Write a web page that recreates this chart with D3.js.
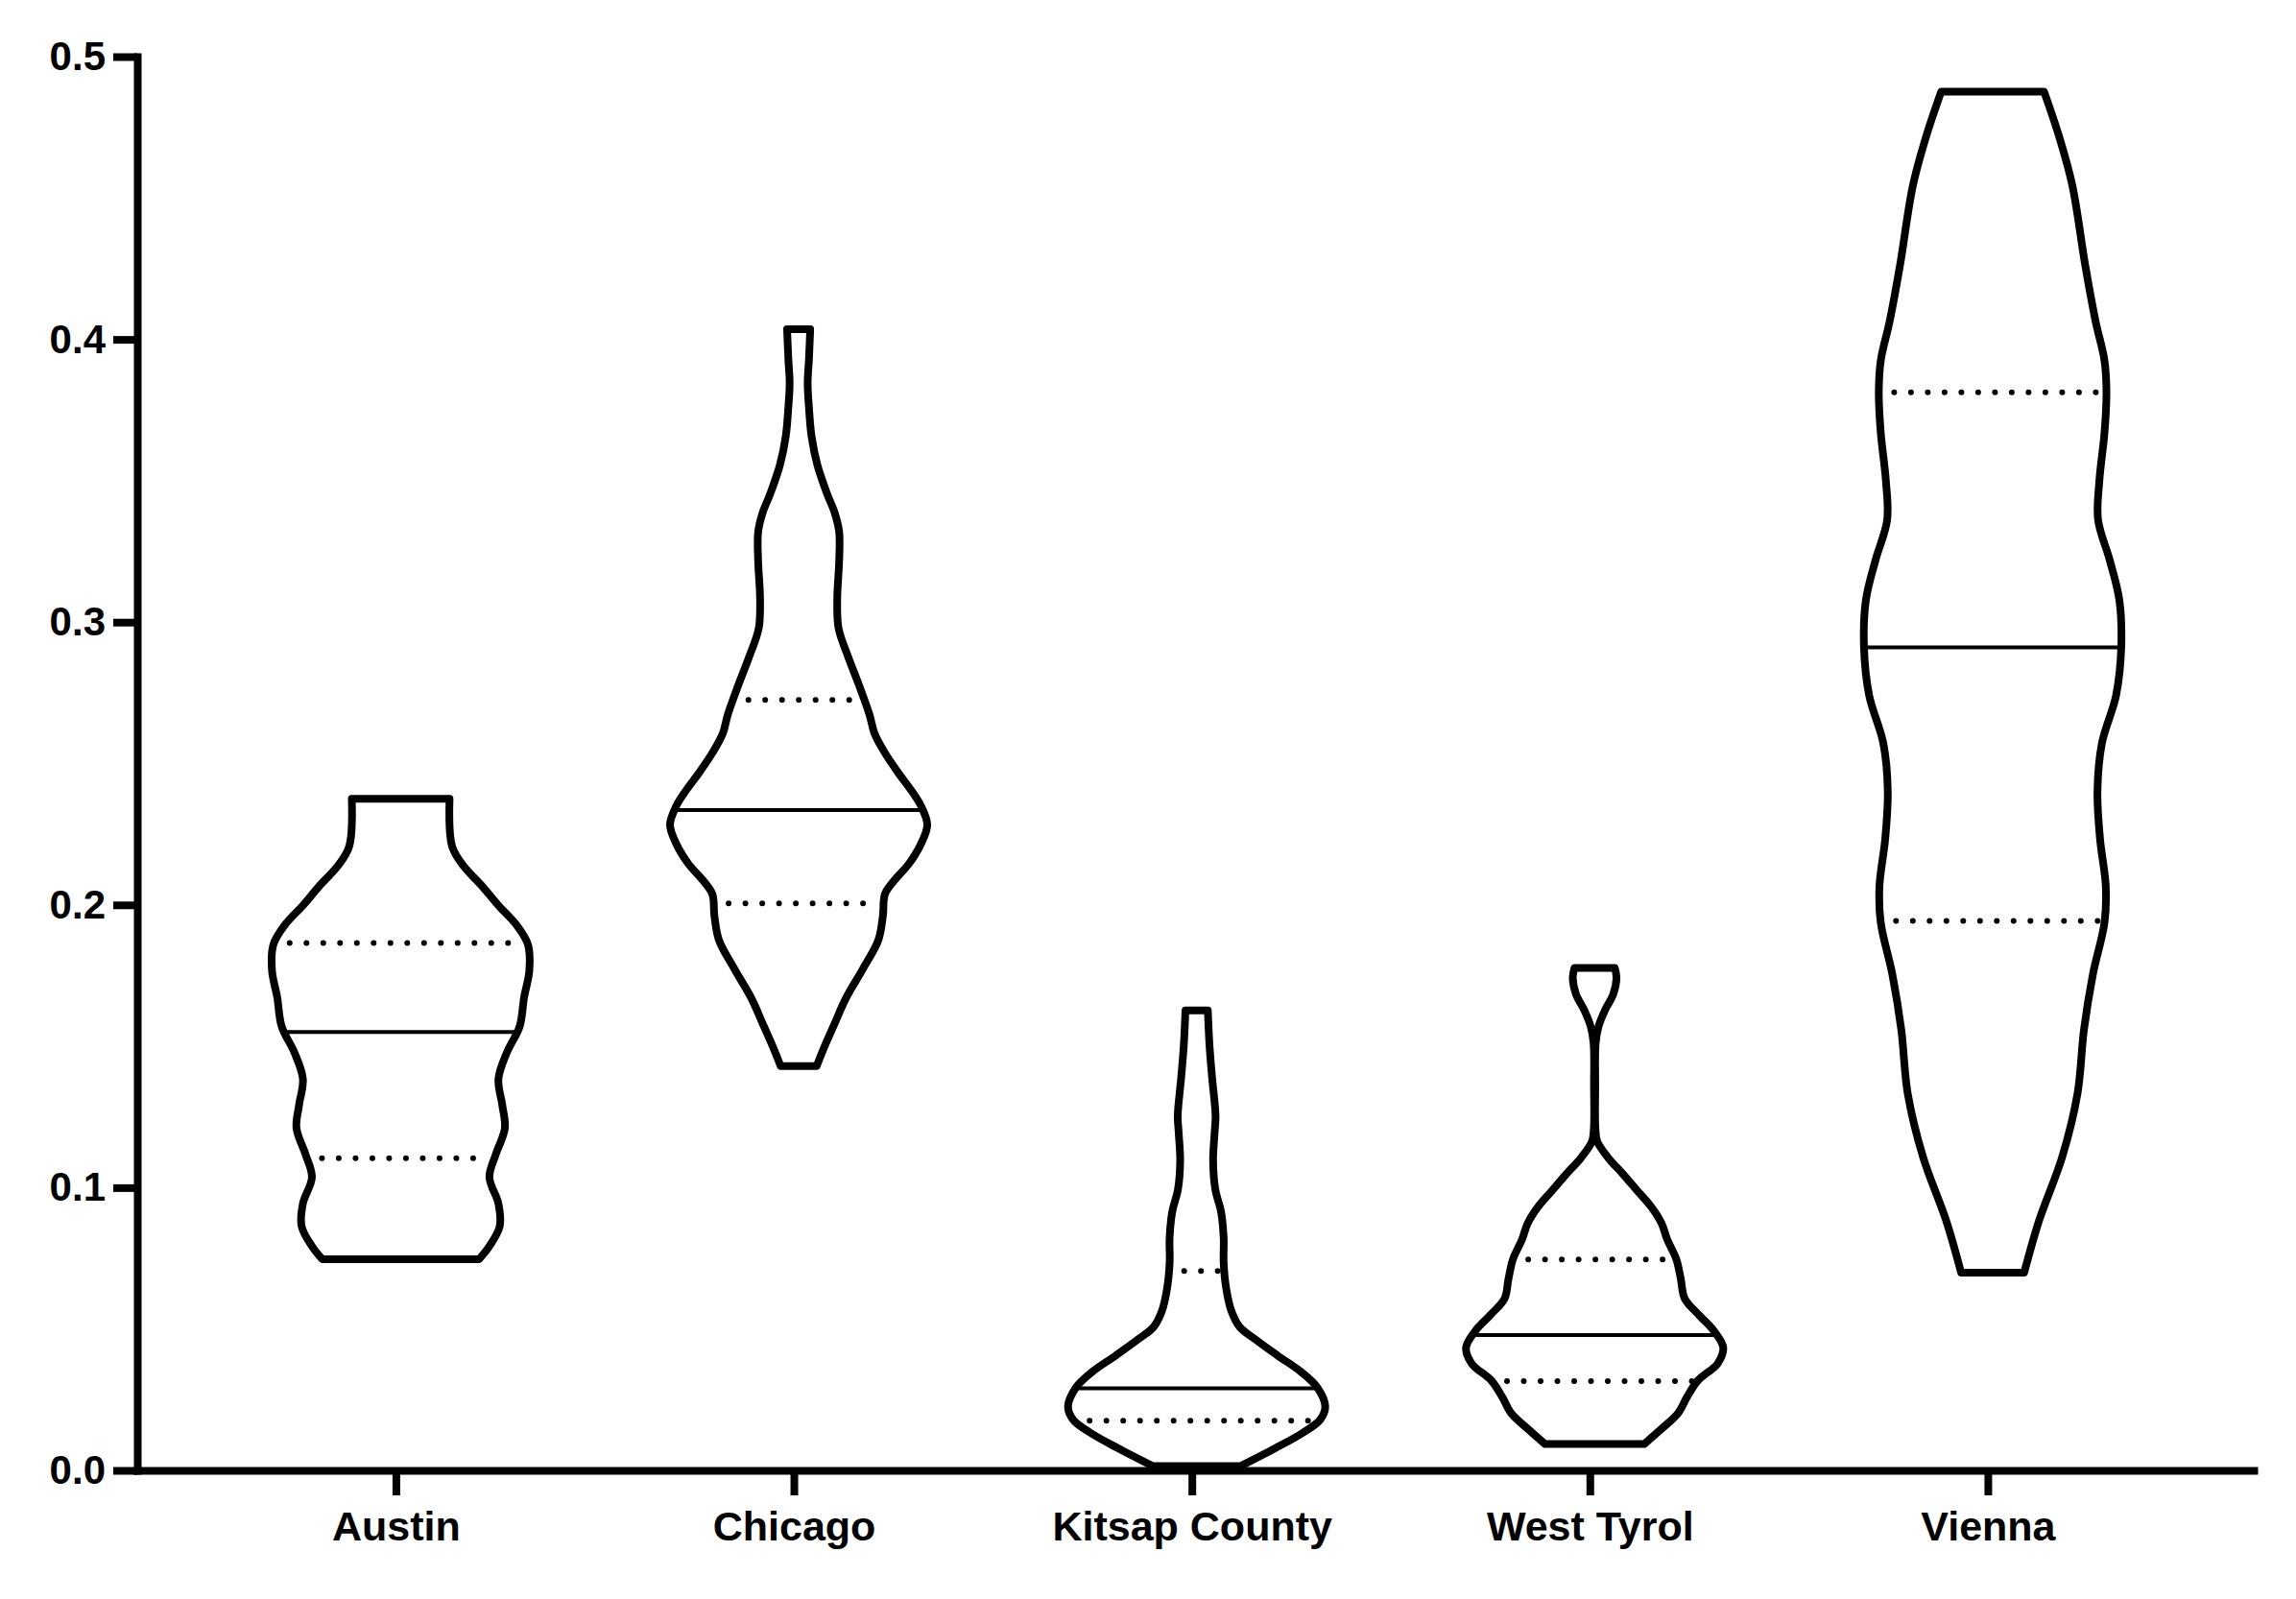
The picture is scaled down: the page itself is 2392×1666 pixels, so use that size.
<!DOCTYPE html>
<html>
<head>
<meta charset="utf-8">
<script src="https://cdn.jsdelivr.net/npm/d3@7"></script>
<style>
body { margin: 0; background: #fff; }
svg { display: block; }
</style>
</head>
<body>
<svg id="chart"></svg>
<script>
// categories on the x axis
var cities = ["Austin", "Chicago", "Kitsap County", "West Tyrol", "Vienna"];

// violin outlines: [value, half width relative to the widest point]
var austinShape = [[0.2375, 0.38], [0.2207, 0.40], [0.2137, 0.49], [0.2068, 0.63], [0.1998, 0.76],
  [0.1929, 0.90], [0.1859, 0.99], [0.1766, 1.0], [0.1674, 0.96], [0.1570, 0.925], [0.1477, 0.825],
  [0.1384, 0.76], [0.1292, 0.79], [0.1210, 0.81], [0.1118, 0.74], [0.1037, 0.69], [0.0944, 0.76],
  [0.0863, 0.77], [0.0793, 0.69], [0.0747, 0.61]];
var chicagoShape = [[0.4036, 0.09], [0.3930, 0.08], [0.3845, 0.07], [0.3760, 0.08], [0.3658, 0.10],
  [0.3557, 0.145], [0.3455, 0.22], [0.3387, 0.28], [0.3319, 0.315], [0.3217, 0.315], [0.3081, 0.30],
  [0.2979, 0.31], [0.2877, 0.385], [0.2776, 0.47], [0.2674, 0.55], [0.2606, 0.59], [0.2538, 0.67],
  [0.2470, 0.77], [0.2402, 0.88], [0.2351, 0.95], [0.2283, 1.0], [0.2215, 0.95], [0.2147, 0.86],
  [0.2079, 0.73], [0.2037, 0.67], [0.1961, 0.655], [0.1876, 0.62], [0.1774, 0.50], [0.1672, 0.37],
  [0.1570, 0.27], [0.1487, 0.19], [0.1430, 0.14]];
var kitsapShape = [[0.1627, 0.087], [0.1503, 0.10], [0.1390, 0.12], [0.1254, 0.147], [0.1197, 0.14],
  [0.1095, 0.128], [0.0994, 0.145], [0.0914, 0.19], [0.0824, 0.21], [0.0734, 0.21], [0.0643, 0.23],
  [0.0564, 0.27], [0.0507, 0.335], [0.0462, 0.46], [0.0406, 0.63], [0.0349, 0.81], [0.0292, 0.94],
  [0.0225, 1.0], [0.0179, 0.96], [0.0134, 0.83], [0.0078, 0.61], [0.0015, 0.34]];
var tyrolShape = [[0.1777, 0.157], [0.1742, 0.17], [0.1684, 0.145], [0.1627, 0.08], [0.1569, 0.03],
  [0.1511, 0.008], [0.1360, 0.005], [0.1210, 0.006], [0.1164, 0.02], [0.1106, 0.105], [0.1048, 0.22],
  [0.0990, 0.33], [0.0932, 0.44], [0.0874, 0.52], [0.0816, 0.565], [0.0747, 0.635], [0.0677, 0.67],
  [0.0608, 0.70], [0.0550, 0.81], [0.0492, 0.93], [0.0434, 1.0], [0.0377, 0.955], [0.0319, 0.805],
  [0.0261, 0.72], [0.0203, 0.65], [0.0145, 0.515], [0.0093, 0.385]];
var viennaShape = [[0.4876, 0.40], [0.4713, 0.52], [0.4544, 0.62], [0.4262, 0.72], [0.4065, 0.80],
  [0.3924, 0.87], [0.3811, 0.885], [0.3671, 0.87], [0.3501, 0.83], [0.3361, 0.82], [0.3220, 0.91],
  [0.3079, 0.985], [0.2910, 1.0], [0.2741, 0.96], [0.2572, 0.85], [0.2403, 0.815], [0.2234, 0.835],
  [0.2065, 0.88], [0.1938, 0.87], [0.1755, 0.78], [0.1558, 0.71], [0.1333, 0.66], [0.1107, 0.54],
  [0.0882, 0.36], [0.0699, 0.245]];
var shapes = [austinShape, chicagoShape, kitsapShape, tyrolShape, viennaShape];

// quartiles and medians, same order as cities
var q3Values = [0.1865, 0.2725, 0.0705, 0.0746, 0.3813];
var medianValues = [0.155, 0.2335, 0.029, 0.0479, 0.2911];
var q1Values = [0.1104, 0.2005, 0.0176, 0.0316, 0.1943];

var yTicks = [0, 0.1, 0.2, 0.3, 0.4, 0.5];

var width = 2392, height = 1666;
var svg = d3.select("#chart").attr("width", width).attr("height", height);

var y = d3.scaleLinear().domain([0, 0.5]).range([1532, 59]);
var x = d3.scalePoint().domain(cities).range([143, 2348]).padding(0.659).align(0.493);
var w = d3.scaleLinear().domain([0, 1]).range([0, 134]);

// half width at a value, straight line between the read points
function halfWidth(shape, v) {
  for (var i = 0; i < shape.length - 1; i++) {
    var a = shape[i], b = shape[i + 1];
    if (v <= a[0] && v >= b[0]) {
      var t = (a[0] - v) / (a[0] - b[0]);
      return a[1] + t * (b[1] - a[1]);
    }
  }
  return 0;
}

cities.forEach(function(c, i) {
  var cx = x(c) + 5; // violins sit a hair right of the tick
  var area = d3.area()
    .x0(function(d) { return cx - w(d[1]); })
    .x1(function(d) { return cx + w(d[1]); })
    .y(function(d) { return y(d[0]); })
    .curve(d3.curveCatmullRom);

  svg.append("path")
    .datum(shapes[i])
    .attr("d", area)
    .attr("fill", "white")
    .attr("stroke", "black")
    .attr("stroke-width", 8)
    .attr("stroke-linejoin", "round");

  // median
  var hm = w(halfWidth(shapes[i], medianValues[i]));
  svg.append("line")
    .attr("x1", cx - hm).attr("x2", cx + hm)
    .attr("y1", y(medianValues[i])).attr("y2", y(medianValues[i]))
    .attr("stroke", "black").attr("stroke-width", 4);

  // quartiles, dotted
  [q1Values[i], q3Values[i]].forEach(function(q) {
    var hq = w(halfWidth(shapes[i], q));
    svg.append("line")
      .attr("x1", cx - hq + 16).attr("x2", cx + hq - 6)
      .attr("y1", y(q)).attr("y2", y(q))
      .attr("stroke", "black").attr("stroke-width", 6)
      .attr("stroke-linecap", "round")
      .attr("stroke-dasharray", "0 17.5");
  });
});

// axes
var yAxis = svg.append("g")
  .attr("transform", "translate(143,0)")
  .call(d3.axisLeft(y).tickValues(yTicks).tickFormat(d3.format(".1f"))
    .tickSize(25).tickPadding(8).tickSizeOuter(0));

var xAxis = svg.append("g")
  .attr("transform", "translate(0,1532)")
  .call(d3.axisBottom(x).tickSize(26).tickPadding(16).tickSizeOuter(0));

[yAxis, xAxis].forEach(function(g) {
  g.select(".domain").attr("stroke-width", 8).attr("stroke-linecap", "square");
  g.selectAll(".tick line").attr("stroke-width", 8);
  g.selectAll(".tick text")
    .attr("fill", "black")
    .style("font-family", "'Liberation Sans', Arial, sans-serif")
    .style("font-weight", "bold");
});
yAxis.selectAll(".tick text").style("font-size", "42px");
xAxis.selectAll(".tick text").style("font-size", "43px");
</script>
</body>
</html>
